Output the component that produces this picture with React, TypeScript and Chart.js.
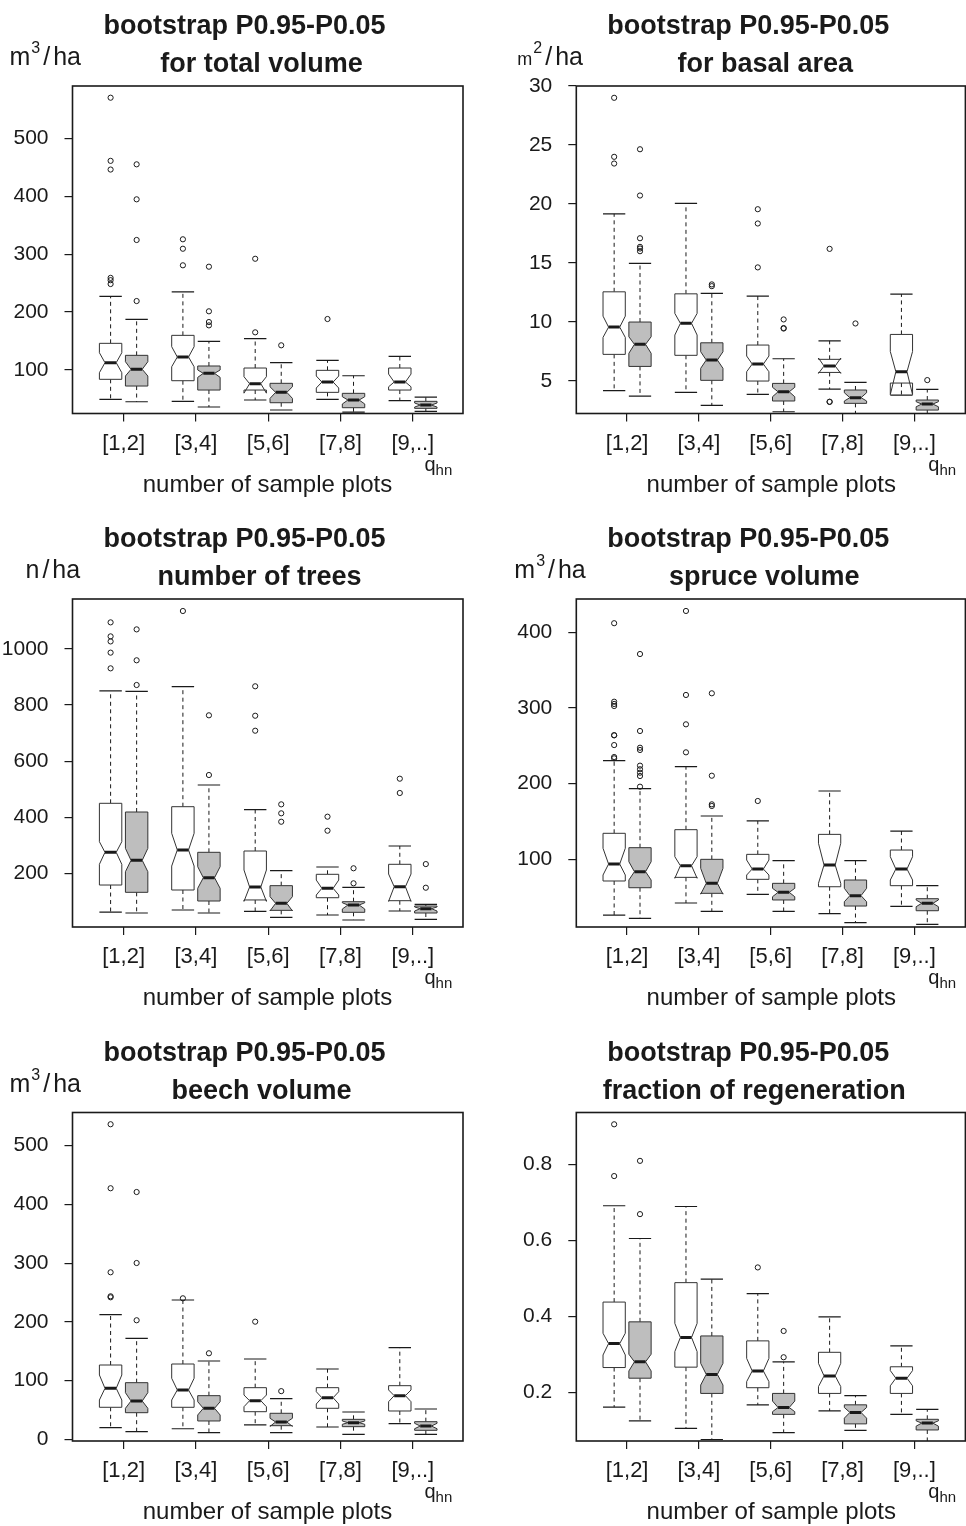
import React, { useEffect, useRef } from "react";
import { Chart, registerables } from "chart.js";

Chart.register(...registerables);

const FONT = "'Liberation Sans', Arial, Helvetica, sans-serif";
const INK = "#1a1a1a";
const GRAY_FILL = "#bebebe";

// Each box: [lowerWhisker, Q1, median, Q3, upperWhisker, notchLow, notchHigh]
type Stat = [number, number, number, number, number, number, number];

const categories = ["[1,2]", "[3,4]", "[5,6]", "[7,8]", "[9,..]"];
const titleLine1 = "bootstrap P0.95-P0.05";
const xAxisTitle = "number of sample plots";

// ---- Panel 1: total volume (m3/ha)
const volTicks = [100, 200, 300, 400, 500];
const volWhite: Stat[] = [
  [49.4, 83.9, 112.6, 146, 227, 95.3, 129.8],
  [45.9, 81.5, 122.4, 159.8, 235, 105.6, 140.2],
  [48.2, 65.4, 76.3, 103.4, 154, 60, 88.4],
  [49.4, 61.4, 79.2, 99.4, 116.7, 68.9, 89.6],
  [47, 65.4, 79.2, 103.4, 123.6, 71, 93],
];
const volWhiteOut = [[570, 461, 446, 259, 255, 248.4], [325.6, 309.3, 280.7], [292, 165], [188], []];
const volGray: Stat[] = [
  [45.2, 72.3, 101.2, 125.3, 187.4, 89.6, 114.3],
  [36.1, 65.4, 94.2, 106.9, 149.5, 87.3, 100],
  [30.9, 43.5, 61.4, 77, 112.6, 51, 71],
  [27.4, 34.9, 48.2, 59.7, 90.1, 41.3, 53.9],
  [28.6, 33.8, 39.5, 45.9, 53.3, 36, 43],
];
const volGrayOut = [[455, 394.6, 324.4, 219], [278.3, 201.3, 182.8, 177], [142.6], [], []];

// ---- Panel 2: basal area (m2/ha)
const baTicks = [5, 10, 15, 20, 25, 30];
const baWhite: Stat[] = [
  [4.18, 7.26, 9.57, 12.56, 19.17, 8.7, 10.5],
  [4.04, 7.18, 9.89, 12.39, 20.05, 8.9, 10.73],
  [3.87, 5.0, 6.44, 8.05, 12.2, 5.79, 7.12],
  [4.32, 5.73, 6.27, 6.84, 8.41, 5.65, 6.95],
  [3.81, 4.83, 5.79, 8.95, 12.37, 3.85, 7.5],
];
const baWhiteOut = [[29.0, 24.0, 23.43], [], [19.56, 18.35, 14.63], [16.2, 3.25, 3.23], []];
const baGray: Stat[] = [
  [3.73, 6.24, 8.11, 10.0, 14.97, 7.35, 8.75],
  [2.94, 5.06, 6.78, 8.24, 12.43, 6.08, 7.48],
  [2.4, 3.31, 4.09, 4.8, 6.89, 3.67, 4.47],
  [2.15, 3.11, 3.59, 4.24, 4.89, 3.31, 4.01],
  [2.0, 2.54, 3.05, 3.39, 4.3, 2.82, 3.25],
];
const baGrayOut = [[24.64, 20.72, 17.1, 16.37, 16.23, 16.0], [13.19, 13.04], [10.22, 9.49, 9.45], [9.88], [5.08]];

// ---- Panel 3: number of trees (n/ha)
const ntTicks = [200, 400, 600, 800, 1000];
const ntWhite: Stat[] = [
  [62, 158.3, 275, 449.7, 851, 232.2, 312.8],
  [69.2, 140.5, 283.2, 437.6, 865.6, 226, 342.7],
  [64.5, 105, 151.2, 279.6, 427, 100, 211.8],
  [51.4, 113, 146.6, 196.5, 222.5, 122.7, 176],
  [65.6, 102.4, 152.3, 232.2, 297.4, 100, 197.6],
];
const ntWhiteOut = [[1095, 1045, 1027, 987, 931], [1135.5], [867, 762, 708.6], [402, 352], [537.5, 486.5]];
const ntGray: Stat[] = [
  [58.5, 132.3, 246.4, 418.7, 849, 205.8, 289],
  [58.5, 101.3, 184.4, 275, 515, 146.6, 223.6],
  [43, 68, 93, 156, 209.5, 66, 116.7],
  [33.5, 61, 87, 98.8, 150, 72.7, 95],
  [36, 58.5, 74, 83.5, 89.5, 65.6, 80],
];
const ntGrayOut = [[1070, 959.7, 871.6], [763.5, 550.6], [446, 414, 384], [218, 164.4], [233, 148.7]];

// ---- Panel 4: spruce volume (m3/ha)
const spTicks = [100, 200, 300, 400];
const spWhite: Stat[] = [
  [26.4, 71.4, 93.8, 134.4, 230.4, 79.3, 114.6],
  [42.3, 76.2, 91.6, 139.2, 222.4, 75, 103.5],
  [53.8, 73.6, 87.2, 106.6, 150.7, 79.3, 99.1],
  [28.2, 63.8, 92.5, 133, 190.3, 68.3, 121.2],
  [37.9, 65.2, 87.2, 112.3, 137.4, 72.7, 103.5],
];
const spWhiteOut = [[412, 308.3, 305.3, 302.6, 264, 263.9, 251, 235.2, 233.5], [428.2, 317.2, 278.4, 241.4], [177.1], [], []];
const spGray: Stat[] = [
  [22, 62.5, 83.7, 115.4, 193.4, 72.7, 96.9],
  [31.3, 55.1, 68.3, 100, 157.3, 54, 88.1],
  [31.3, 46.3, 56.4, 68.3, 98.2, 50.6, 61.7],
  [16.3, 38.3, 52, 72.7, 98.2, 44, 61.7],
  [14.1, 32.1, 41.9, 48, 65.2, 37.4, 46.3],
];
const spGrayOut = [[371.3, 269.6, 247.5, 244.5, 223.8, 219, 214.5, 210.1, 196], [319.4, 210.5, 172.7, 170.5], [], [], []];

// ---- Panel 5: beech volume (m3/ha)
const beTicks = [0, 100, 200, 300, 400, 500];
const beWhite: Stat[] = [
  [19.8, 54.5, 86.8, 126.5, 212.2, 66.9, 109.5],
  [18, 54.5, 84, 128.2, 237.2, 66.9, 103.9],
  [24.4, 47, 65.7, 87.9, 136.7, 55.5, 75.4],
  [20.9, 52.8, 70.8, 87.9, 119.7, 60.1, 81],
  [26.6, 48.2, 74.3, 91.3, 156, 64, 84],
];
const beWhiteOut = [[536.5, 427.5, 284.4, 243.5, 241.8], [240.1], [200.3], [], []];
const beGray: Stat[] = [
  [12.9, 45.3, 65.2, 96.4, 172, 52.8, 79.4],
  [11.2, 31.2, 52.8, 74.3, 133.3, 41.4, 64],
  [11.2, 23.2, 29.5, 44.3, 69.1, 22, 35.8],
  [8.5, 21.5, 28.3, 34, 46.5, 25.5, 31.2],
  [8.5, 15.3, 22.6, 30, 51.6, 18, 27.2],
];
const beGrayOut = [[421.1, 300.2, 202.7], [146.5], [82], [], []];

// ---- Panel 6: fraction of regeneration
const frTicks = [0.2, 0.4, 0.6, 0.8];
const frWhite: Stat[] = [
  [0.162, 0.266, 0.329, 0.438, 0.691, 0.299, 0.356],
  [0.106, 0.267, 0.345, 0.489, 0.689, 0.308, 0.382],
  [0.168, 0.213, 0.257, 0.336, 0.46, 0.229, 0.29],
  [0.152, 0.198, 0.244, 0.306, 0.399, 0.216, 0.277],
  [0.143, 0.198, 0.238, 0.268, 0.323, 0.218, 0.258],
];
const frWhiteOut = [[0.905, 0.769], [], [0.529], [], []];
const frGray: Stat[] = [
  [0.126, 0.238, 0.281, 0.386, 0.605, 0.257, 0.301],
  [0.077, 0.198, 0.248, 0.349, 0.498, 0.22, 0.277],
  [0.095, 0.143, 0.161, 0.198, 0.281, 0.15, 0.178],
  [0.101, 0.118, 0.148, 0.168, 0.192, 0.133, 0.161],
  [0.06, 0.102, 0.12, 0.13, 0.156, 0.112, 0.126],
];
const frGrayOut = [[0.809, 0.669], [], [0.362, 0.293], [], []];

// ---- layout
const OFFSET = 0.18; // box centre offset from group tick
const HALF = 0.155; // half box width in group units
const X_MIN = -0.707;
const PX_PER_GROUP = 72.3;

type Unit = { base: string; baseSize: number; sup: string | null; dx: number };

type Panel = {
  cx: number; cy: number; cw: number; ch: number;
  L: number; T: number; R: number; B: number;
  yMin: number; yMax: number; yTicks: number[];
  white: Stat[]; whiteOut: number[][]; gray: Stat[]; grayOut: number[][];
  subtitle: string; subDx: number; unit: Unit | null;
};

const panels: Panel[] = [
  { cx: 0, cy: 0, cw: 483, ch: 512, L: 72.5, T: 86, R: 463, B: 413.5,
    yMin: 24.9, yMax: 590.2, yTicks: volTicks, white: volWhite, whiteOut: volWhiteOut, gray: volGray, grayOut: volGrayOut,
    subtitle: "for total volume", subDx: 189, unit: { base: "m", baseSize: 25, sup: "3", dx: -63 } },
  { cx: 483, cy: 0, cw: 486, ch: 512, L: 576.3, T: 86, R: 968, B: 413.5,
    yMin: 2.25, yMax: 30.0, yTicks: baTicks, white: baWhite, whiteOut: baWhiteOut, gray: baGray, grayOut: baGrayOut,
    subtitle: "for basal area", subDx: 189, unit: { base: "m", baseSize: 18, sup: "2", dx: -59 } },
  { cx: 0, cy: 512, cw: 483, ch: 514, L: 72.5, T: 599, R: 463, B: 927,
    yMin: 8.6, yMax: 1178.3, yTicks: ntTicks, white: ntWhite, whiteOut: ntWhiteOut, gray: ntGray, grayOut: ntGrayOut,
    subtitle: "number of trees", subDx: 187, unit: { base: "n", baseSize: 25, sup: null, dx: -47 } },
  { cx: 483, cy: 512, cw: 486, ch: 514, L: 576.3, T: 599, R: 968, B: 927,
    yMin: 10.6, yMax: 444, yTicks: spTicks, white: spWhite, whiteOut: spWhiteOut, gray: spGray, grayOut: spGrayOut,
    subtitle: "spruce volume", subDx: 188, unit: { base: "m", baseSize: 25, sup: "3", dx: -62 } },
  { cx: 0, cy: 1026, cw: 483, ch: 500, L: 72.5, T: 1112.5, R: 463, B: 1441,
    yMin: -2.9, yMax: 556.5, yTicks: beTicks, white: beWhite, whiteOut: beWhiteOut, gray: beGray, grayOut: beGrayOut,
    subtitle: "beech volume", subDx: 189, unit: { base: "m", baseSize: 25, sup: "3", dx: -63 } },
  { cx: 483, cy: 1026, cw: 486, ch: 500, L: 576.3, T: 1112.5, R: 968, B: 1441,
    yMin: 0.073, yMax: 0.936, yTicks: frTicks, white: frWhite, whiteOut: frWhiteOut, gray: frGray, grayOut: frGrayOut,
    subtitle: "fraction of regeneration", subDx: 178, unit: null },
];

function drawBox(ctx: CanvasRenderingContext2D, xs: any, ys: any, center: number, s: Stat, fill: string) {
  const [lo, q1, med, q3, hi, nlo, nhi] = s;
  const xc = xs.getPixelForValue(center);
  const w = xs.getPixelForValue(center + HALF) - xc;
  const Y = (v: number) => ys.getPixelForValue(v);
  const seg = (x1: number, y1: number, x2: number, y2: number) => {
    ctx.beginPath();
    ctx.moveTo(x1, y1);
    ctx.lineTo(x2, y2);
    ctx.stroke();
  };
  ctx.strokeStyle = INK;
  ctx.lineWidth = 1;
  ctx.setLineDash([4, 3.5]);
  seg(xc, Y(q3), xc, Y(hi));
  seg(xc, Y(q1), xc, Y(lo));
  ctx.setLineDash([]);
  ctx.lineWidth = 1.2;
  seg(xc - w, Y(hi), xc + w, Y(hi));
  seg(xc - w, Y(lo), xc + w, Y(lo));
  const xl = xc - w, xr = xc + w, xnl = xc - w * 0.5, xnr = xc + w * 0.5;
  ctx.beginPath();
  ctx.moveTo(xl, Y(q1));
  ctx.lineTo(xr, Y(q1));
  ctx.lineTo(xr, Y(nlo));
  ctx.lineTo(xnr, Y(med));
  ctx.lineTo(xr, Y(nhi));
  ctx.lineTo(xr, Y(q3));
  ctx.lineTo(xl, Y(q3));
  ctx.lineTo(xl, Y(nhi));
  ctx.lineTo(xnl, Y(med));
  ctx.lineTo(xl, Y(nlo));
  ctx.closePath();
  ctx.fillStyle = fill;
  ctx.fill();
  ctx.lineWidth = 1;
  ctx.strokeStyle = "#333";
  ctx.stroke();
  ctx.strokeStyle = INK;
  ctx.lineWidth = 3;
  seg(xnl, Y(med), xnr, Y(med));
}

function makeBoxPlugin(p: Panel) {
  return {
    id: "notchedBoxes",
    beforeDatasetsDraw(chart: any) {
      const { ctx, chartArea } = chart;
      const xs = chart.scales.x;
      const ys = chart.scales.y;
      ctx.save();
      ctx.beginPath();
      ctx.rect(chartArea.left, chartArea.top, chartArea.right - chartArea.left, chartArea.bottom - chartArea.top);
      ctx.clip();
      categories.forEach((_, i) => {
        drawBox(ctx, xs, ys, i - OFFSET, p.white[i], "#ffffff");
        drawBox(ctx, xs, ys, i + OFFSET, p.gray[i], GRAY_FILL);
      });
      ctx.restore();
    },
    afterDraw(chart: any) {
      const { ctx, chartArea } = chart;
      const L = chartArea.left, T = chartArea.top, B = chartArea.bottom, R = chartArea.right;
      ctx.save();
      // plot frame
      ctx.strokeStyle = INK;
      ctx.lineWidth = 1.6;
      ctx.strokeRect(L, T, R - L, B - T);
      ctx.fillStyle = INK;
      // titles
      ctx.textAlign = "center";
      ctx.textBaseline = "alphabetic";
      ctx.font = `bold 27px ${FONT}`;
      ctx.fillText(titleLine1, L + 172, T - 52);
      ctx.fillText(p.subtitle, L + p.subDx, T - 14);
      // x axis title
      ctx.font = `24px ${FONT}`;
      ctx.fillText(xAxisTitle, L + 195, B + 78);
      // q_hn
      ctx.textAlign = "left";
      ctx.font = `20px ${FONT}`;
      const qx = L + 352;
      ctx.fillText("q", qx, B + 57);
      const qw = ctx.measureText("q").width;
      ctx.font = `15px ${FONT}`;
      ctx.fillText("hn", qx + qw, B + 61);
      // unit label
      if (p.unit) {
        const u = p.unit;
        let x = L + u.dx;
        const bl = T - 21;
        ctx.font = `${u.baseSize}px ${FONT}`;
        ctx.fillText(u.base, x, bl);
        x += ctx.measureText(u.base).width;
        if (u.sup) {
          ctx.font = `16px ${FONT}`;
          ctx.fillText(u.sup, x + 1, bl - 12);
          x += ctx.measureText(u.sup).width + 1;
        }
        ctx.font = `25px ${FONT}`;
        x += 3;
        ctx.fillText("/", x, bl);
        x += ctx.measureText("/").width + 3;
        ctx.fillText("ha", x, bl);
      }
      ctx.restore();
    },
  };
}

function PanelChart({ p }: { p: Panel }) {
  const ref = useRef<HTMLCanvasElement>(null);
  useEffect(() => {
    const canvas = ref.current;
    if (!canvas) return;
    const pts: { x: number; y: number }[] = [];
    categories.forEach((_, i) => {
      p.whiteOut[i].forEach((v) => pts.push({ x: i - OFFSET, y: v }));
      p.grayOut[i].forEach((v) => pts.push({ x: i + OFFSET, y: v }));
    });
    const yAxisWidth = p.L - p.cx;
    const xAxisHeight = p.cy + p.ch - p.B;
    const xMax = X_MIN + (p.R - p.L) / PX_PER_GROUP;
    const chart = new Chart(canvas, {
      type: "scatter",
      data: {
        datasets: [
          {
            data: pts,
            pointRadius: 2.6,
            pointBorderWidth: 1,
            pointBorderColor: INK,
            pointBackgroundColor: "rgba(0,0,0,0)",
            pointHoverRadius: 2.6,
          },
        ],
      },
      options: {
        responsive: false,
        animation: false,
        events: [],
        layout: { padding: { top: p.T - p.cy, left: 0, right: p.cx + p.cw - p.R, bottom: 0 } },
        plugins: { legend: { display: false }, tooltip: { enabled: false }, title: { display: false } },
        scales: {
          x: {
            type: "linear",
            min: X_MIN,
            max: xMax,
            afterBuildTicks: (axis: any) => {
              axis.ticks = categories.map((_, i) => ({ value: i }));
            },
            afterFit: (axis: any) => {
              axis.height = xAxisHeight;
            },
            grid: { drawOnChartArea: false, drawTicks: true, tickLength: 8, color: INK, lineWidth: 1.2 },
            border: { display: false },
            ticks: {
              autoSkip: false,
              maxRotation: 0,
              padding: 9,
              color: INK,
              font: { family: FONT, size: 22 },
              callback: (v: any) => categories[Math.round(Number(v))] ?? "",
            },
          },
          y: {
            type: "linear",
            min: p.yMin,
            max: p.yMax,
            afterBuildTicks: (axis: any) => {
              axis.ticks = p.yTicks.map((v) => ({ value: v }));
            },
            afterFit: (axis: any) => {
              axis.width = yAxisWidth;
            },
            grid: { drawOnChartArea: false, drawTicks: true, tickLength: 8, color: INK, lineWidth: 1.2 },
            border: { display: false },
            ticks: {
              padding: 16,
              color: INK,
              font: { family: FONT, size: 21 },
              callback: (v: any) => String(v),
            },
          },
        },
      },
      plugins: [makeBoxPlugin(p)],
    } as any);
    return () => chart.destroy();
  }, [p]);
  return (
    <canvas
      ref={ref}
      width={p.cw}
      height={p.ch}
      style={{ position: "absolute", left: p.cx, top: p.cy, width: p.cw, height: p.ch }}
    />
  );
}

export default function App() {
  return (
    <div
      style={{
        position: "absolute",
        left: 0,
        top: 0,
        width: 966,
        height: 1526,
        overflow: "hidden",
        background: "#ffffff",
      }}
    >
      {panels.map((p, i) => (
        <PanelChart key={i} p={p} />
      ))}
    </div>
  );
}
